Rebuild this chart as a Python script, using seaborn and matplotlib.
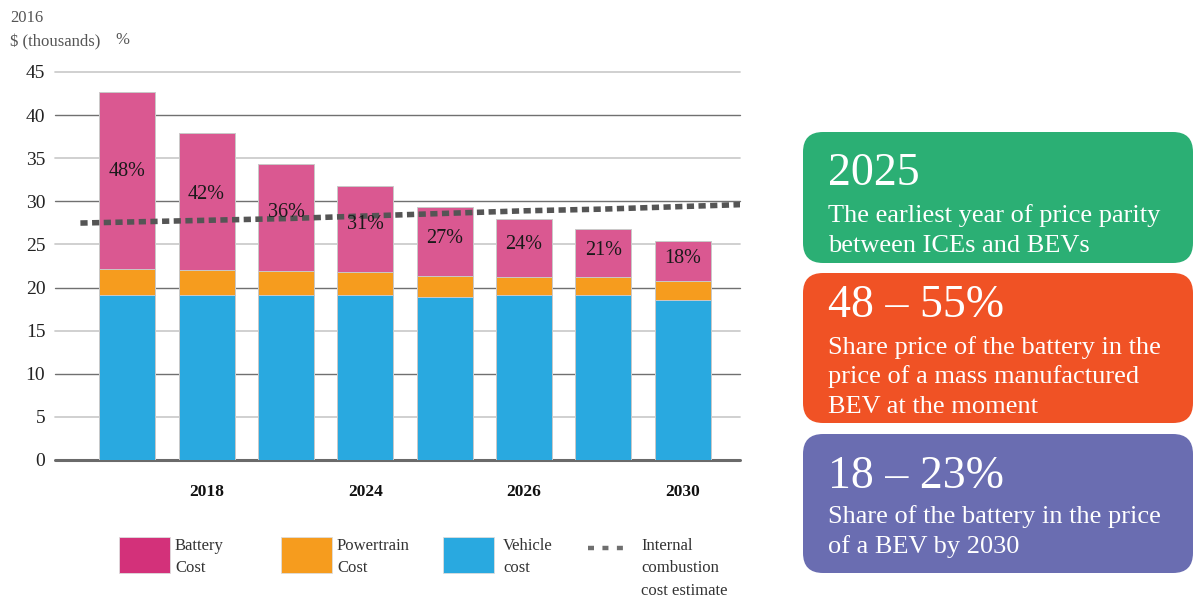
import numpy as np
import pandas as pd
import matplotlib
matplotlib.use("Agg")
import matplotlib.pyplot as plt
import seaborn as sns
from matplotlib.patches import FancyBboxPatch, Rectangle
from matplotlib.lines import Line2D

# ---- data (2016 $ thousands) ----
periods = ["P1", "P2", "P3", "P4", "P5", "P6", "P7", "P8"]
tick_labels = ["", "2018", "", "2024", "", "2026", "", "2030"]
vehicle_cost = [19.1, 19.1, 19.1, 19.1, 18.9, 19.1, 19.1, 18.6]
powertrain_cost = [3.1, 2.9, 2.8, 2.7, 2.4, 2.1, 2.1, 2.2]
battery_cost = [20.5, 15.9, 12.4, 10.0, 8.0, 6.8, 5.6, 4.6]
ice_cost = [27.6, 27.8, 28.0, 28.3, 28.6, 28.9, 29.1, 29.4]

y_ticks = [0, 5, 10, 15, 20, 25, 30, 35, 40, 45]

df = pd.DataFrame({
    "period": periods,
    "vehicle": vehicle_cost,
    "powertrain": powertrain_cost,
    "battery": battery_cost,
})
df["vp"] = df["vehicle"] + df["powertrain"]
df["total"] = df["vp"] + df["battery"]
df["share"] = (100 * df["battery"] / df["total"]).round().astype(int)

# ---- style ----
sns.set_theme(style="white")
plt.rcParams["font.family"] = ["Liberation Serif", "DejaVu Serif"]

BATTERY_BAR = "#DA5891"
BATTERY_KEY = "#D3317A"
POWERTRAIN = "#F69C1E"
VEHICLE = "#29A9E0"
ICE = "#555555"

W, H = 1195, 601
fig = plt.figure(figsize=(W / 100, H / 100), dpi=100)
ax = fig.add_axes([55 / W, (H - 460) / H, 685 / W, 388 / H])

bar_kw = dict(width=0.705, saturation=1, edgecolor="#c9c9c9", linewidth=0.7,
              ax=ax, zorder=3, order=periods)
sns.barplot(data=df, x="period", y="total", color=BATTERY_BAR, **bar_kw)
sns.barplot(data=df, x="period", y="vp", color=POWERTRAIN, **bar_kw)
sns.barplot(data=df, x="period", y="vehicle", color=VEHICLE, **bar_kw)

# battery share labels
for i, row in df.iterrows():
    ypos = row["vp"] + 0.55 * row["battery"]
    ax.text(i, ypos, f"{row['share']}%", ha="center", va="center",
            fontsize=14.5, color="#1a1a1a", zorder=5)

# ICE cost estimate, extended beyond the first and last bars
xi = np.arange(len(ice_cost), dtype=float)
ice = np.array(ice_cost)
x_ext = np.concatenate([[xi[0] - 0.59], xi, [xi[-1] + 0.75]])
y_ext = np.concatenate([[ice[0] - 0.59 * (ice[1] - ice[0])], ice,
                        [ice[-1] + 0.75 * (ice[-1] - ice[-2])]])
sns.lineplot(x=x_ext, y=y_ext, ax=ax, color=ICE, linewidth=4.0, zorder=4,
             linestyle=(0, (1.3, 0.8)), sort=False)

ax.set_xlim(-0.91, 7.72)
ax.set_ylim(0, 45)
ax.set_yticks(y_ticks)
ax.set_yticklabels([str(t) for t in y_ticks], fontsize=14, color="#222222")
ax.set_xticks(range(len(periods)))
ax.set_xticklabels(tick_labels, fontsize=12.5, fontweight="bold", color="#111111")
ax.tick_params(axis="y", length=0, pad=7)
ax.tick_params(axis="x", length=0, pad=17)
ax.set_xlabel("")
ax.set_ylabel("")
for s in ax.spines.values():
    s.set_visible(False)

ax.grid(axis="y", zorder=0)
ax.set_axisbelow(True)
for t, gl in zip(y_ticks, ax.get_ygridlines()):
    if t == 0:
        gl.set_color("#6a6a6a"); gl.set_linewidth(2.2)
    elif t % 10 == 0:
        gl.set_color("#707070"); gl.set_linewidth(1.0)
    else:
        gl.set_color("#cdcdcd"); gl.set_linewidth(1.3)
    gl.set_clip_on(False)

# units
fig.text(10 / W, 1 - 18 / H, "2016", fontsize=12, color="#555555", va="center")
fig.text(10 / W, 1 - 42 / H, "$ (thousands)", fontsize=12, color="#555555", va="center")
fig.text(115 / W, 1 - 40 / H, "%", fontsize=12, color="#555555", va="center")

# overlay in pixel coordinates for the key and the fact cards
ov = fig.add_axes([0, 0, 1, 1], zorder=10)
ov.set_xlim(0, W)
ov.set_ylim(H, 0)
ov.set_axis_off()

legend_items = [
    (119, BATTERY_KEY, ["Battery", "Cost"], 175),
    (281, POWERTRAIN, ["Powertrain", "Cost"], 337),
    (443, VEHICLE, ["Vehicle", "cost"], 503),
]
for x0, col, lines, tx in legend_items:
    ov.add_patch(Rectangle((x0, 537), 51, 36, facecolor=col, edgecolor="#dddddd", linewidth=0.6))
    for k, ln in enumerate(lines):
        ov.text(tx, 546 + 22.5 * k, ln, fontsize=12, color="#333333", va="center")
ov.add_line(Line2D([588, 626], [548, 548], color="#6f6f6f", linewidth=3.2,
                   linestyle=(0, (1.35, 1.9))))
for k, ln in enumerate(["Internal", "combustion", "cost estimate"]):
    ov.text(641, 546 + 22.5 * k, ln, fontsize=12, color="#333333", va="center")

cards = [
    (132, 263, "#2BAF74", "2025", 185,
     ["The earliest year of price parity", "between ICEs and BEVs"], 222),
    (273, 423, "#F05225", "48 \u2013 55%", 317,
     ["Share price of the battery in the", "price of a mass manufactured", "BEV at the moment"], 354),
    (434, 573, "#6A6DB1", "18 \u2013 23%", 488,
     ["Share of the battery in the price", "of a BEV by 2030"], 523),
]
for top, bot, col, head, hy, body, by in cards:
    ov.add_patch(FancyBboxPatch((803, top), 390, bot - top,
                                boxstyle="round,pad=0,rounding_size=20",
                                facecolor=col, edgecolor="none"))
    ov.text(828, hy, head, fontsize=33, color="white", va="baseline")
    for k, ln in enumerate(body):
        ov.text(828, by + 29.5 * k, ln, fontsize=19, color="white", va="baseline")

fig.savefig("out.png", dpi=100)
